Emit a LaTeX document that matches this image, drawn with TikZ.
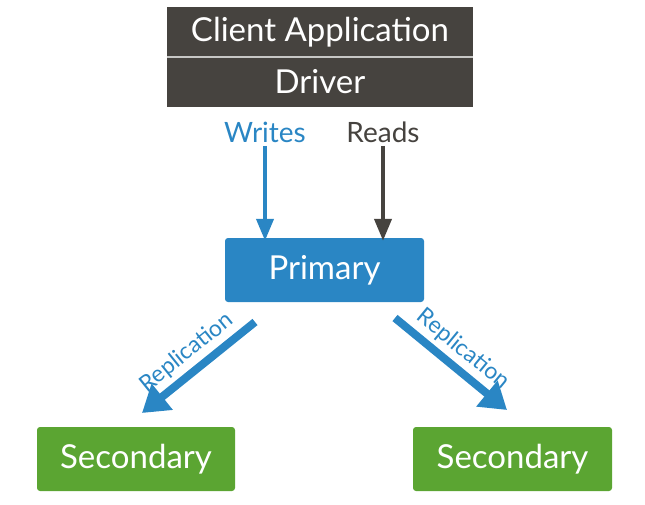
\documentclass[tikz,border=0pt]{standalone}
\usepackage{fontspec}
\setmainfont{Lato}
\usetikzlibrary{arrows.meta}
\definecolor{mdbblue}{HTML}{2A86C4}
\definecolor{mdbgreen}{HTML}{5BA532}
\definecolor{mdbgray}{HTML}{46433F}

\begin{document}
\begin{tikzpicture}[x=1pt,y=-1pt,
  appbox/.style={fill=mdbgray,text=white,minimum width=306pt,minimum height=50pt,inner sep=0pt,font=\fontsize{33}{33}\selectfont},
  nodebox/.style={rounded corners=3pt,text=white,minimum height=64pt,inner sep=0pt,font=\fontsize{33}{33}\selectfont},
  oplabel/.style={font=\fontsize{28}{28}\selectfont},
  oparrow/.style={line width=4pt,-{Triangle[width=17pt,length=22pt]}},
  reparrow/.style={mdbblue,line width=8pt,-{Triangle[width=32pt,length=26pt]}},
  replabel/.style={midway,sloped,above=1pt,font=\fontsize{23}{23}\selectfont}]
\useasboundingbox (0,0) rectangle (645,504);
\node[appbox] (client) at (320,32) {Client Application};\node[appbox] (driver) at (320,82) {Driver};
\draw[white!70!mdbgray,line width=1.5pt] (client.south west)--(client.south east);
\node[oplabel,text=mdbblue] (writes) at (265,132) {Writes};\node[oplabel,text=mdbgray] (reads) at (383,132) {Reads};
\node[nodebox,fill=mdbblue,minimum width=199pt] (primary) at (324.5,270) {Primary};
\node[nodebox,fill=mdbgreen,minimum width=198pt] (sec1) at (136,459) {Secondary};
\node[nodebox,fill=mdbgreen,minimum width=199pt] (sec2) at (512.5,459) {Secondary};
\draw[oparrow,mdbblue] (writes.south) -- ([yshift=-3pt]primary.north -| writes.south);
\draw[oparrow,mdbgray] (reads.south) -- ([yshift=-3pt]primary.north -| reads.south);
% replication to the secondaries
\coordinate (repL) at (255,322);\coordinate (repLtip) at (142,413);
\coordinate (repR) at (395,318);\coordinate (repRtip) at (507,410);
\draw[reparrow] (repL) -- (repLtip) node[replabel] {Replication};
\draw[reparrow] (repR) -- (repRtip) node[replabel] {Replication};
\end{tikzpicture}
\end{document}
